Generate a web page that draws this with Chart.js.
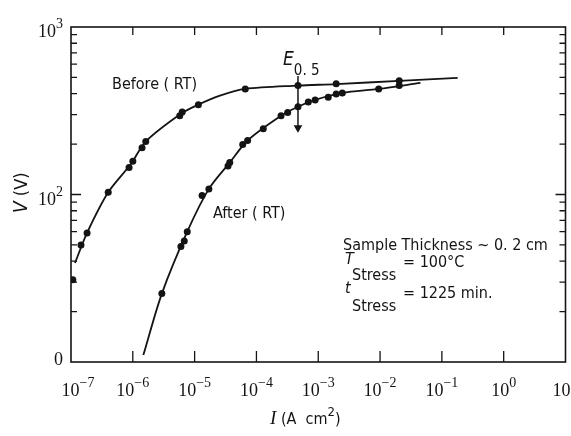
<!DOCTYPE html>
<html>
<head>
<meta charset="utf-8">
<script src="https://cdn.jsdelivr.net/npm/chart.js@4.4.1/dist/chart.umd.min.js"></script>
<style>
  html, body { margin: 0; padding: 0; background: #fff; }
  #wrap { width: 571px; height: 436px; }
</style>
</head>
<body>
<div id="wrap"><canvas id="ivChart"></canvas></div>
<script>
// axis ticks (log scales)
const xTickValues = [1e-7, 1e-6, 1e-5, 1e-4, 1e-3, 1e-2, 1e-1, 1, 10];
const xTickExponents = ['\u22127', '\u22126', '\u22125', '\u22124', '\u22123', '\u22122', '\u22121', '0', ''];
const yTickValues = [10, 100, 1000];
const yTickBases = ['0', '10', '10'];
const yTickExponents = ['', '2', '3'];

// measured points, current density I (A/cm2) vs voltage V (V)
const beforeI = [1.07e-7, 1.45e-7, 1.82e-7, 4.0e-7, 8.7e-7, 1.0e-6, 1.41e-6, 1.62e-6, 5.75e-6, 6.3e-6, 1.15e-5, 6.6e-5, 4.7e-4, 1.95e-3, 2.04e-2];
const beforeV = [31, 50, 59, 103, 145, 158, 190, 207, 295, 311, 344, 427, 447, 458, 477];
const afterI = [2.95e-6, 6.0e-6, 6.8e-6, 7.6e-6, 1.32e-5, 1.7e-5, 3.47e-5, 3.7e-5, 6.0e-5, 7.2e-5, 1.29e-4, 2.5e-4, 3.2e-4, 4.7e-4, 6.9e-4, 8.9e-4, 1.45e-3, 1.95e-3, 2.45e-3, 9.5e-3, 2.04e-2];
const afterV = [25.6, 49, 52.7, 60, 98.6, 108, 148, 155, 199, 210, 247, 295, 309, 334, 357, 367, 381, 398, 404, 427, 447];

// fitted curves as drawn on the figure
const beforeCurveI = [1.16e-7, 1.82e-7, 4.0e-7, 9.3e-7, 1.62e-6, 6.0e-6, 1.15e-5, 2.5e-5, 6.6e-5, 4.7e-4, 1.95e-3, 2.04e-2, 1.8e-1];
const beforeCurveV = [39, 59, 103, 152, 207, 303, 344, 388, 427, 447, 456, 477, 497];
const afterCurveI = [1.48e-6, 2.95e-6, 7.6e-6, 1.7e-5, 3.7e-5, 7.2e-5, 2.5e-4, 4.7e-4, 8.9e-4, 2.45e-3, 9.5e-3, 4.5e-2];
const afterCurveV = [11, 25.6, 60, 108, 155, 210, 295, 334, 367, 404, 427, 464];

// E0.5 marker
const e05I = [4.7e-4, 4.7e-4];
const e05V = [510, 250];

const pts = (xs, ys) => xs.map((v, i) => ({ x: v, y: ys[i] }));

const SANS = "'Liberation Sans Narrow', 'DejaVu Sans Condensed', 'Liberation Sans', sans-serif";
const SERIF = "'Liberation Serif', 'DejaVu Serif', serif";
const INK = '#141414';

function drawPower(ctx, base, exp, x, baseline, align) {
  ctx.font = '18px ' + SERIF;
  const wb = ctx.measureText(base).width;
  ctx.font = '14px ' + SERIF;
  const we = exp ? ctx.measureText(exp).width : 0;
  const total = wb + we;
  let left = x;
  if (align === 'center') left = x - total / 2;
  if (align === 'right') left = x - total;
  ctx.font = '18px ' + SERIF;
  ctx.fillText(base, left, baseline);
  if (exp) {
    ctx.font = '14px ' + SERIF;
    ctx.fillText(exp, left + wb, baseline - 9);
  }
}

// draws text pieces in a row: [text, font, dy]
function drawRow(ctx, parts, left, baseline) {
  let cx = left;
  parts.forEach(([t, f, dy]) => {
    ctx.font = f;
    ctx.fillText(t, cx, baseline + (dy || 0));
    cx += ctx.measureText(t).width;
  });
}

const framePlugin = {
  id: 'frame',
  afterDraw(chart) {
    const { ctx, chartArea: a, scales: { x, y } } = chart;
    ctx.save();
    ctx.strokeStyle = INK;
    ctx.fillStyle = INK;
    ctx.lineWidth = 1.6;
    ctx.strokeRect(a.left, a.top, a.right - a.left, a.bottom - a.top);

    ctx.lineWidth = 1.3;
    ctx.beginPath();
    xTickValues.forEach((v, i) => {
      if (i === 0 || i === xTickValues.length - 1) return;
      const px = x.getPixelForValue(v);
      ctx.moveTo(px, a.bottom); ctx.lineTo(px, a.bottom - 11);
      ctx.moveTo(px, a.top); ctx.lineTo(px, a.top + 8);
    });
    for (let d = 10; d < 1000; d *= 10) {
      for (let k = 2; k <= 9; k++) {
        const py = y.getPixelForValue(d * k);
        ctx.moveTo(a.left, py); ctx.lineTo(a.left + 6, py);
        ctx.moveTo(a.right, py); ctx.lineTo(a.right - 6, py);
      }
    }
    const pMid = y.getPixelForValue(100);
    ctx.moveTo(a.left, pMid); ctx.lineTo(a.left + 10, pMid);
    ctx.moveTo(a.right, pMid); ctx.lineTo(a.right - 10, pMid);
    ctx.stroke();

    // tick labels
    ctx.textAlign = 'left';
    ctx.textBaseline = 'alphabetic';
    xTickValues.forEach((v, i) => {
      let px = x.getPixelForValue(v);
      if (i === 0) px += 7;
      if (i === xTickValues.length - 1) px -= 4;
      drawPower(ctx, '10', xTickExponents[i], px, a.bottom + 34, 'center');
    });
    yTickValues.forEach((v, i) => {
      const py = y.getPixelForValue(v);
      const bl = Math.min(py + 10, a.bottom + 3);
      drawPower(ctx, yTickBases[i], yTickExponents[i], a.left - 8, bl, 'right');
    });

    // axis titles
    ctx.save();
    ctx.translate(27, 213);
    ctx.rotate(-Math.PI / 2);
    drawRow(ctx, [['V', 'italic 19px ' + SANS], [' (V)', '18px ' + SANS]], 0, 0);
    ctx.restore();
    drawRow(ctx, [
      ['I', 'italic 19px ' + SERIF],
      [' (A  cm', '16px ' + SANS],
      ['2', '13px ' + SANS, -8],
      [')', '16px ' + SANS]
    ], 270, 424);

    // curve labels
    drawRow(ctx, [['Before ( RT)', '16px ' + SANS]], 112, 89);
    drawRow(ctx, [['After ( RT)', '16px ' + SANS]], 213, 218);
    drawRow(ctx, [['E', 'italic 19px ' + SANS], ['0. 5', '15px ' + SANS, 10]], 283, 65);

    // conditions
    drawRow(ctx, [['Sample Thickness ~ 0. 2 cm', '16px ' + SANS]], 343, 250);
    drawRow(ctx, [['T', 'italic 16px ' + SANS]], 345, 264);
    drawRow(ctx, [['Stress', '16px ' + SANS]], 352, 280);
    drawRow(ctx, [['= 100\u00b0C', '16px ' + SANS]], 403, 267);
    drawRow(ctx, [['t', 'italic 16px ' + SANS]], 345, 293);
    drawRow(ctx, [['Stress', '16px ' + SANS]], 352, 311);
    drawRow(ctx, [['= 1225 min.', '16px ' + SANS]], 403, 298);
    ctx.restore();
  }
};

const ctx = document.getElementById('ivChart');

new Chart(ctx, {
  type: 'scatter',
  data: {
    datasets: [
      {
        label: 'Before (RT) curve',
        data: pts(beforeCurveI, beforeCurveV),
        showLine: true,
        tension: 0.3,
        borderColor: INK,
        borderWidth: 1.8,
        pointRadius: 0
      },
      {
        label: 'After (RT) curve',
        data: pts(afterCurveI, afterCurveV),
        showLine: true,
        tension: 0.3,
        borderColor: INK,
        borderWidth: 1.8,
        pointRadius: 0
      },
      {
        label: 'Before (RT)',
        data: pts(beforeI, beforeV),
        pointRadius: 3.5,
        backgroundColor: INK,
        borderColor: INK,
        borderWidth: 0
      },
      {
        label: 'After (RT)',
        data: pts(afterI, afterV),
        pointRadius: 3.5,
        backgroundColor: INK,
        borderColor: INK,
        borderWidth: 0
      },
      {
        label: 'E0.5',
        data: pts(e05I, e05V),
        showLine: true,
        borderColor: INK,
        borderWidth: 1.5,
        pointStyle: 'triangle',
        pointRadius: [0, 3.5],
        pointRotation: [0, 180],
        backgroundColor: INK
      }
    ]
  },
  options: {
    responsive: true,
    maintainAspectRatio: false,
    animation: false,
    layout: { padding: { top: 27, right: 5, left: 0, bottom: 0 } },
    plugins: {
      legend: { display: false },
      tooltip: { enabled: false }
    },
    scales: {
      x: {
        type: 'logarithmic',
        min: 1e-7,
        max: 10,
        grid: { display: false },
        border: { display: false },
        ticks: { display: false },
        afterFit: s => { s.height = 74; }
      },
      y: {
        type: 'logarithmic',
        min: 10,
        max: 1000,
        grid: { display: false },
        border: { display: false },
        ticks: { display: false },
        afterFit: s => { s.width = 71; }
      }
    }
  },
  plugins: [framePlugin]
});
</script>
</body>
</html>
